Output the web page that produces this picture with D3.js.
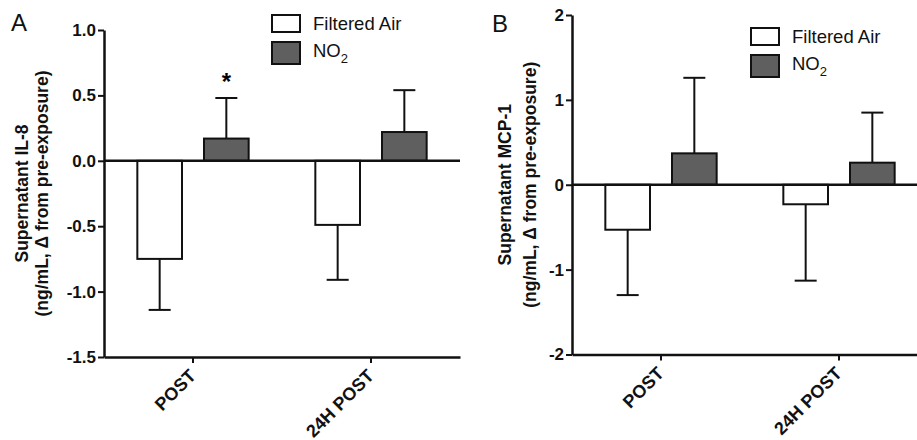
<!DOCTYPE html>
<html>
<head>
<meta charset="utf-8">
<script src="https://cdn.jsdelivr.net/npm/d3@7"></script>
<style>
  body { margin: 0; background: #fff; }
  svg { display: block; font-family: "Liberation Sans", Arial, sans-serif; }
</style>
</head>
<body>
<svg id="chart" width="917" height="440"></svg>
<script>
// data
var categories = ["POST", "24H POST"];
var series = ["Filtered Air", "NO2"];

// panel A - IL-8
var il8FilteredAir = [-0.75, -0.49];
var il8FilteredAirSem = [0.39, 0.42];
var il8NO2 = [0.17, 0.22];
var il8NO2Sem = [0.31, 0.32];
var il8Ticks = [-1.5, -1.0, -0.5, 0.0, 0.5, 1.0];
var il8Stars = ["*", ""];

// panel B - MCP-1
var mcp1FilteredAir = [-0.53, -0.23];
var mcp1FilteredAirSem = [0.77, 0.90];
var mcp1NO2 = [0.37, 0.26];
var mcp1NO2Sem = [0.89, 0.59];
var mcp1Ticks = [-2, -1, 0, 1, 2];

var fills = ["#ffffff", "#5f5f5f"];

var svg = d3.select("#chart");

function drawPanel(opt) {
    var g = svg.append("g");

    var y = d3.scaleLinear()
        .domain([opt.ticks[0], opt.ticks[opt.ticks.length - 1]])
        .range([opt.bottom, opt.top]);

    var x0 = d3.scaleBand()
        .domain(categories)
        .range([opt.left, opt.right]);

    var x1 = d3.scaleBand()
        .domain(series)
        .range([0, x0.bandwidth()])
        .paddingInner(0.33)
        .paddingOuter(0.5);

    var rows = [];
    categories.forEach(function (c, i) {
        rows.push({cat: c, s: series[0], v: opt.fa[i], e: opt.faSem[i], star: ""});
        rows.push({cat: c, s: series[1], v: opt.no2[i], e: opt.no2Sem[i], star: opt.stars ? opt.stars[i] : ""});
    });

    // error bars (one sided, away from zero)
    var eb = g.selectAll(".err").data(rows).enter().append("g");
    eb.append("line")
        .attr("x1", d => x0(d.cat) + x1(d.s) + x1.bandwidth() / 2)
        .attr("x2", d => x0(d.cat) + x1(d.s) + x1.bandwidth() / 2)
        .attr("y1", d => y(d.v))
        .attr("y2", d => y(d.v + (d.v < 0 ? -d.e : d.e)))
        .attr("stroke", "#111").attr("stroke-width", 2);
    eb.append("line")
        .attr("x1", d => x0(d.cat) + x1(d.s) + x1.bandwidth() / 2 - 11)
        .attr("x2", d => x0(d.cat) + x1(d.s) + x1.bandwidth() / 2 + 11)
        .attr("y1", d => y(d.v + (d.v < 0 ? -d.e : d.e)))
        .attr("y2", d => y(d.v + (d.v < 0 ? -d.e : d.e)))
        .attr("stroke", "#111").attr("stroke-width", 2);

    // bars
    g.selectAll(".bar").data(rows).enter().append("rect")
        .attr("x", d => x0(d.cat) + x1(d.s))
        .attr("width", x1.bandwidth())
        .attr("y", d => Math.min(y(d.v), y(0)))
        .attr("height", d => Math.abs(y(d.v) - y(0)))
        .attr("fill", (d, i) => fills[i % 2])
        .attr("stroke", "#111")
        .attr("stroke-width", 2);

    // significance star
    g.selectAll(".star").data(rows.filter(d => d.star)).enter().append("text")
        .attr("x", d => x0(d.cat) + x1(d.s) + x1.bandwidth() / 2)
        .attr("y", d => y(d.v + d.e) - 8)
        .attr("text-anchor", "middle")
        .style("font-size", "24px")
        .style("font-weight", "bold")
        .text(d => d.star);

    // zero line
    g.append("line")
        .attr("x1", opt.left).attr("x2", opt.right)
        .attr("y1", y(0)).attr("y2", y(0))
        .attr("stroke", "#111").attr("stroke-width", 2.5);

    // y axis
    var yAxis = g.append("g")
        .attr("transform", "translate(" + opt.left + ",0)")
        .call(d3.axisLeft(y).tickValues(opt.ticks).tickSize(6).tickSizeOuter(0)
            .tickFormat(opt.fmt));
    yAxis.select(".domain").attr("stroke", "#111").attr("stroke-width", 2.5);
    yAxis.selectAll(".tick line").attr("stroke", "#111").attr("stroke-width", 2);
    yAxis.selectAll(".tick text")
        .attr("x", -8)
        .style("font-family", "'Liberation Sans', Arial, sans-serif")
        .style("font-size", "17px")
        .style("font-weight", "bold")
        .attr("fill", "#111");

    // x axis
    var xAxis = g.append("g")
        .attr("transform", "translate(0," + opt.bottom + ")")
        .call(d3.axisBottom(x0).tickSize(6).tickSizeOuter(0));
    xAxis.select(".domain").attr("stroke", "#111").attr("stroke-width", 2.5);
    xAxis.selectAll(".tick line").attr("stroke", "#111").attr("stroke-width", 2);
    xAxis.selectAll(".tick text")
        .attr("text-anchor", "end")
        .attr("dy", null)
        .attr("y", 0)
        .attr("transform", "translate(4,20) rotate(-45)")
        .style("font-family", "'Liberation Sans', Arial, sans-serif")
        .style("font-size", "18px")
        .style("font-weight", "bold")
        .attr("fill", "#111");

    // y title, two lines
    var mid = (opt.top + opt.bottom) / 2;
    opt.title.forEach(function (t, i) {
        g.append("text")
            .attr("transform", "translate(" + opt.titleX[i] + "," + mid + ") rotate(-90)")
            .attr("text-anchor", "middle")
            .attr("dy", "0.35em")
            .style("font-size", "17.5px")
            .style("font-weight", "bold")
            .attr("fill", "#111")
            .text(t);
    });

    // panel letter
    g.append("text")
        .attr("x", opt.letterX).attr("y", opt.letterY)
        .style("font-size", "24px")
        .attr("fill", "#111")
        .text(opt.letter);

    // legend
    var lg = g.append("g").attr("transform", "translate(" + opt.legX + "," + opt.legY + ")");
    var boxH = [17, 22];
    var boxY = [0, 27];
    series.forEach(function (s, i) {
        lg.append("rect")
            .attr("x", 0).attr("y", boxY[i])
            .attr("width", 28).attr("height", boxH[i])
            .attr("fill", fills[i])
            .attr("stroke", "#111").attr("stroke-width", 2);
        var t = lg.append("text")
            .attr("x", 41).attr("y", boxY[i] + 15)
            .style("font-size", "18.5px")
            .attr("fill", "#111");
        if (s === "NO2") {
            t.append("tspan").text("NO");
            t.append("tspan").attr("dy", 6).style("font-size", "13px").text("2");
        } else {
            t.text(s);
        }
    });
}

drawPanel({
    letter: "A", letterX: 11, letterY: 31,
    left: 104, right: 460, top: 30, bottom: 357,
    ticks: il8Ticks, fmt: d => d.toFixed(1),
    fa: il8FilteredAir, faSem: il8FilteredAirSem,
    no2: il8NO2, no2Sem: il8NO2Sem, stars: il8Stars,
    title: ["Supernatant IL-8", "(ng/mL, \u0394 from pre-exposure)"],
    titleX: [22, 42],
    legX: 272, legY: 15
});

drawPanel({
    letter: "B", letterX: 492, letterY: 32,
    left: 572, right: 928, top: 15, bottom: 354.5,
    ticks: mcp1Ticks, fmt: d => String(d),
    fa: mcp1FilteredAir, faSem: mcp1FilteredAirSem,
    no2: mcp1NO2, no2Sem: mcp1NO2Sem, stars: null,
    title: ["Supernatant MCP-1", "(ng/mL, \u0394 from pre-exposure)"],
    titleX: [505, 530],
    legX: 751, legY: 28
});
</script>
</body>
</html>
